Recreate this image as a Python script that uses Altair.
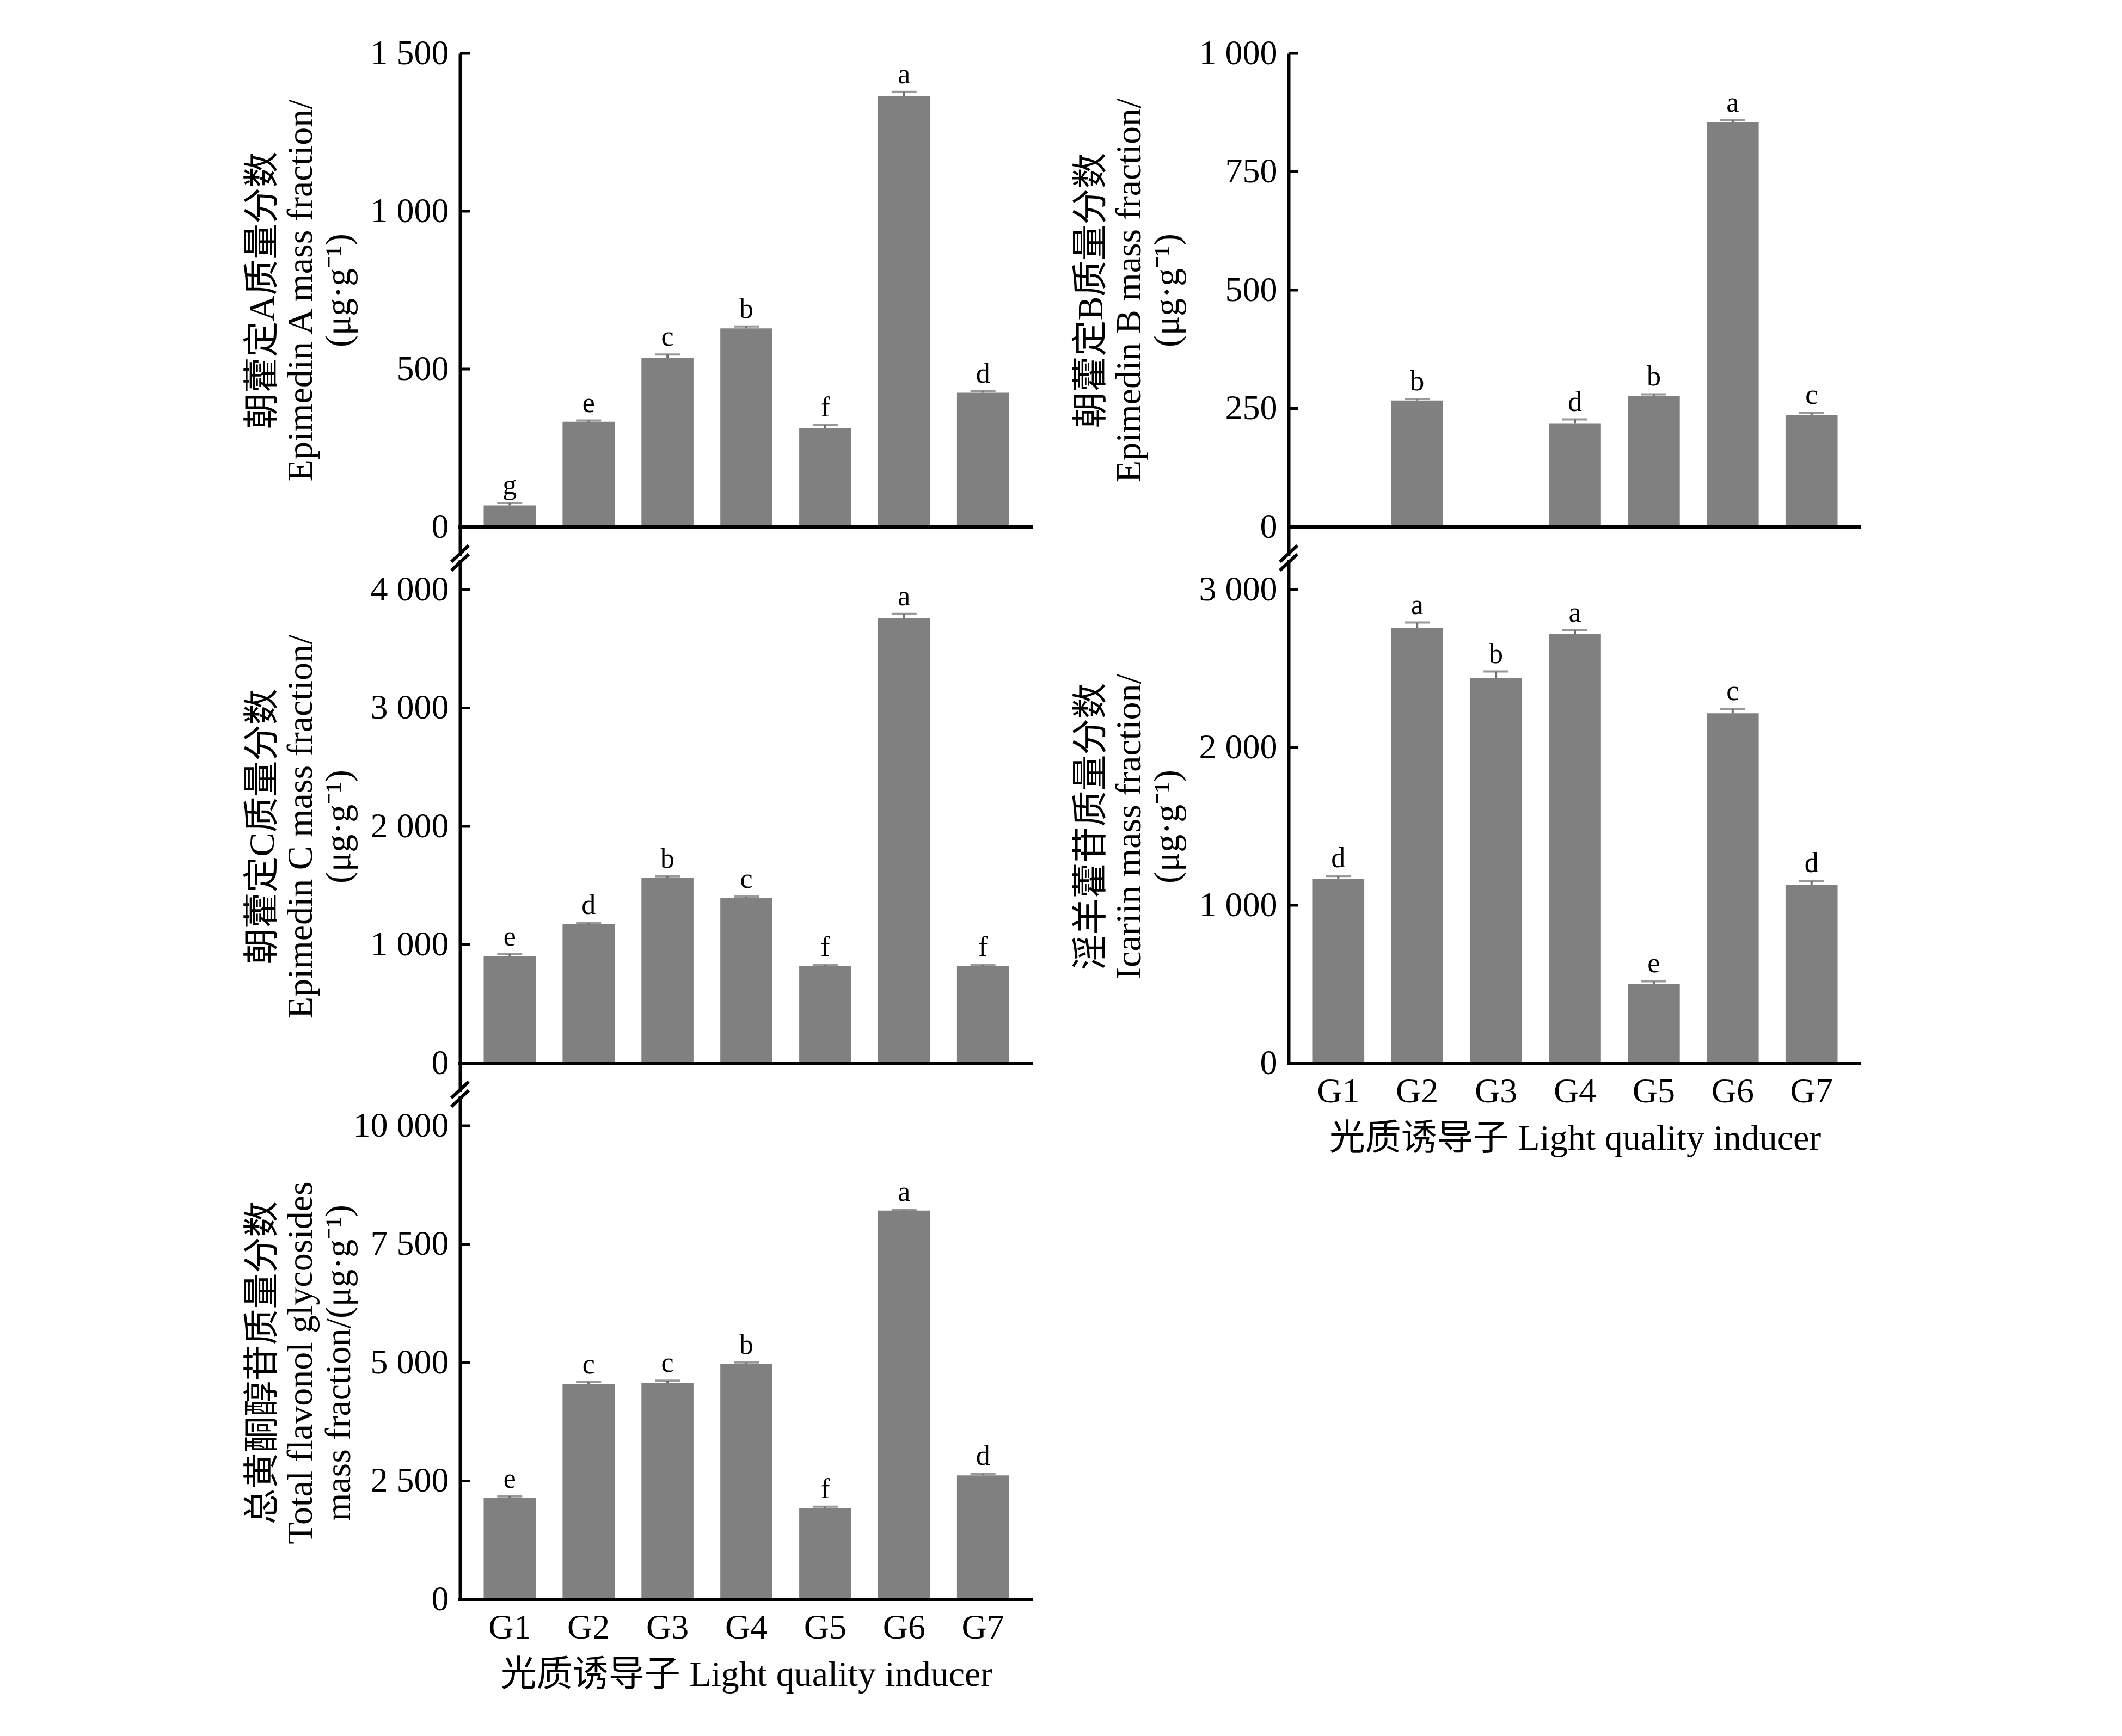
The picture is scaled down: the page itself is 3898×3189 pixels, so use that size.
import altair as alt
import pandas as pd

# ---------------- data ----------------
groups = ["G1", "G2", "G3", "G4", "G5", "G6", "G7"]

epi_a = [68, 333, 536, 629, 313, 1364, 425]
epi_a_err = [8, 4, 10, 6, 10, 14, 5]
epi_a_sig = ["g", "e", "c", "b", "f", "a", "d"]

epi_b = [None, 267, None, 219, 277, 854, 236]
epi_b_err = [None, 3, None, 8, 3, 5, 5]
epi_b_sig = [None, "b", None, "d", "b", "a", "c"]

epi_c = [906, 1174, 1568, 1397, 818, 3759, 818]
epi_c_err = [15, 10, 10, 10, 12, 35, 12]
epi_c_sig = ["e", "d", "b", "c", "f", "a", "f"]

icariin = [1169, 2755, 2441, 2718, 501, 2216, 1129]
icariin_err = [16, 36, 40, 24, 18, 29, 26]
icariin_sig = ["d", "a", "b", "a", "e", "c", "d"]

total = [2145, 4545, 4564, 4973, 1927, 8209, 2618]
total_err = [30, 40, 55, 30, 30, 20, 35]
total_sig = ["e", "c", "c", "b", "f", "a", "d"]

ticks_a = [0, 500, 1000, 1500]
ticks_b = [0, 250, 500, 750, 1000]
ticks_c = [0, 1000, 2000, 3000, 4000]
ticks_i = [0, 1000, 2000, 3000]
ticks_t = [0, 2500, 5000, 7500, 10000]

title_a = ["朝藿定A质量分数", "Epimedin A mass fraction/", "(μg·g⁻¹)"]
title_b = ["朝藿定B质量分数", "Epimedin B mass fraction/", "(μg·g⁻¹)"]
title_c = ["朝藿定C质量分数", "Epimedin C mass fraction/", "(μg·g⁻¹)"]
title_i = ["淫羊藿苷质量分数", "Icariin mass fraction/", "(μg·g⁻¹)"]
title_t = ["总黄酮醇苷质量分数", "Total flavonol glycosides", "mass fraction/(μg·g⁻¹)"]
x_title = "光质诱导子 Light quality inducer"

# ---------------- style ----------------
FONT = "Liberation Serif, Noto Sans CJK SC"
BAR = "#808080"
ERR = "#6e6e6e"
W = 1052          # plot width
SPAN = 870        # pixel span of the tick range
EXT = 57          # axis extension to the break mark


def panel(vals, errs, sigs, ticks, title_lines, ext_top, ext_bottom, show_x):
    df = pd.DataFrame({"g": groups, "v": vals, "e": errs, "s": sigs}).dropna(subset=["v"])
    df["hi"] = df["v"] + df["e"]
    ymax = ticks[-1]
    unit = SPAN / ymax
    dom = [-ext_bottom / unit, ymax + ext_top / unit]
    H = SPAN + ext_top + ext_bottom

    xscale = alt.Scale(domain=groups, paddingInner=0.34, paddingOuter=0.30)
    yscale = alt.Scale(domain=dom, nice=False, zero=False)

    if show_x:
        xaxis = alt.Axis(title=x_title, titleFont=FONT, titleFontSize=66, titleFontWeight="normal",
                         titleColor="black", titlePadding=22, labelFont=FONT, labelFontSize=64,
                         labelColor="black", labelAngle=0, labelPadding=20, ticks=False, tickSize=0,
                         domain=False)
    else:
        xaxis = None

    yaxis = alt.Axis(values=ticks, title=title_lines, titleFont=FONT, titleFontSize=66,
                     titleFontWeight="normal", titleColor="black", titleAngle=-90,
                     titleX=-363, titleY=ext_top + SPAN / 2, titleAlign="center",
                     titleBaseline="middle", titleLineHeight=70,
                     labelFont=FONT, labelFontSize=64, labelColor="black", labelPadding=21,
                     ticks=False, tickSize=0, grid=False, domainWidth=6, domainColor="black",
                     labelExpr="replace(format(datum.value, ','), ',', ' ')")

    base = alt.Chart(df)
    bars = base.mark_bar(color=BAR).encode(
        x=alt.X("g:N", scale=xscale, axis=xaxis, sort=groups),
        y=alt.Y("v:Q", scale=yscale, axis=yaxis),
    )
    stem = base.mark_rule(color=ERR, strokeWidth=4).encode(
        x=alt.X("g:N", scale=xscale, sort=groups),
        y=alt.Y("v:Q", scale=yscale), y2="hi:Q")
    cap = base.mark_tick(color=ERR, size=46, thickness=4).encode(
        x=alt.X("g:N", scale=xscale, sort=groups),
        y=alt.Y("hi:Q", scale=yscale))
    txt = base.mark_text(font=FONT, fontSize=52, color="black", baseline="alphabetic", dy=-16).encode(
        x=alt.X("g:N", scale=xscale, sort=groups),
        y=alt.Y("hi:Q", scale=yscale), text="s:N")

    tick_df = pd.DataFrame({"t": ticks})
    yt = alt.Chart(tick_df).mark_rule(color="black", strokeWidth=5).encode(
        y=alt.Y("t:Q", scale=yscale), x=alt.value(0), x2=alt.value(18))

    zero = alt.Chart(pd.DataFrame({"z": [0]})).mark_rule(color="black", strokeWidth=6).encode(
        y=alt.Y("z:Q", scale=yscale), x=alt.value(-3), x2=alt.value(W))

    layers = [bars, stem, cap, txt, yt, zero]

    if ext_top > 0:
        one = pd.DataFrame({"k": [0]})
        gap = alt.Chart(one).mark_rule(color="white", strokeWidth=10).encode(
            x=alt.value(0), x2=alt.value(0), y=alt.value(-4), y2=alt.value(4))
        s1 = alt.Chart(one).mark_rule(color="black", strokeWidth=6).encode(
            x=alt.value(-16), y=alt.value(7), x2=alt.value(16), y2=alt.value(-23))
        s2 = alt.Chart(one).mark_rule(color="black", strokeWidth=6).encode(
            x=alt.value(-16), y=alt.value(23), x2=alt.value(16), y2=alt.value(-7))
        layers += [gap, s1, s2]

    return alt.layer(*layers).properties(width=W, height=H)


p1 = panel(epi_a, epi_a_err, epi_a_sig, ticks_a, title_a, 0, EXT, False)
p3 = panel(epi_c, epi_c_err, epi_c_sig, ticks_c, title_c, 58, EXT, False)
p5 = panel(total, total_err, total_sig, ticks_t, title_t, 58, 0, True)
p2 = panel(epi_b, epi_b_err, epi_b_sig, ticks_b, title_b, 0, EXT, False)
p4 = panel(icariin, icariin_err, icariin_sig, ticks_i, title_i, 58, 0, True)

left = alt.vconcat(p1, p3, p5, spacing=0, bounds="flush")
right = alt.vconcat(p2, p4, spacing=0, bounds="flush")

chart = (
    alt.hconcat(left, right, spacing=70)
    .properties(padding={"left": 440, "top": 58, "right": 60, "bottom": 40}, background="white")
    .configure(font=FONT, view=alt.ViewConfig(strokeWidth=0, stroke="transparent"))
)

chart.save("out.html", embed_options={"renderer": "svg", "actions": False})
